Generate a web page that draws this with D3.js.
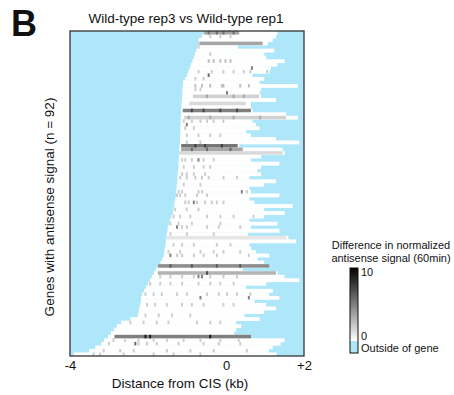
<!DOCTYPE html>
<html>
<head>
<meta charset="utf-8">
<script src="https://cdn.jsdelivr.net/npm/d3@7/dist/d3.min.js"></script>
<style>
  body { margin: 0; background: #fff; }
  text { font-family: "Liberation Sans", Arial, sans-serif; fill: #111; }
</style>
</head>
<body>
<div id="chart"></div>
<script>
// gene start / end per row (kb from CIS), rows sorted by start
var geneStart = [-0.56,-0.62,-0.70,-0.68,-0.74,-0.76,-0.80,-0.82,-0.86,-0.90,
  -0.93,-0.97,-1.00,-1.05,-1.10,-1.10,-1.12,-1.12,-1.13,-1.13,
  -1.14,-1.14,-1.15,-1.15,-1.16,-1.16,-1.17,-1.17,-1.17,-1.18,
  -1.18,-1.18,-1.19,-1.20,-1.20,-1.21,-1.21,-1.22,-1.22,-1.23,
  -1.24,-1.25,-1.25,-1.26,-1.27,-1.28,-1.28,-1.30,-1.32,-1.33,
  -1.35,-1.36,-1.40,-1.43,-1.46,-1.49,-1.50,-1.52,-1.53,-1.54,
  -1.55,-1.57,-1.58,-1.59,-1.63,-1.68,-1.74,-1.80,-1.85,-1.90,
  -1.95,-2.00,-2.05,-2.10,-2.15,-2.18,-2.18,-2.20,-2.22,-2.24,
  -2.26,-2.45,-2.69,-2.80,-2.87,-2.95,-3.02,-3.13,-3.20,-3.35,
  -3.51,-3.90];
var geneEnd = [1.32,1.28,1.20,1.07,0.30,1.24,0.98,1.03,1.50,1.32,
  1.15,1.11,0.68,0.98,0.86,1.84,0.90,0.86,0.90,1.28,
  0.64,0.64,0.68,1.54,1.84,0.68,0.77,0.86,0.51,0.64,
  1.28,1.88,0.34,1.45,1.50,0.90,0.64,1.37,0.90,0.81,
  0.90,0.60,1.28,0.98,0.60,0.64,1.37,0.60,0.73,1.71,
  0.98,1.50,0.98,0.60,1.32,0.64,1.37,0.56,1.60,1.80,
  0.60,0.64,0.77,1.11,0.81,0.98,1.11,0.43,1.32,1.50,
  1.88,1.03,0.51,1.20,1.11,1.37,0.73,1.03,1.28,0.98,
  0.47,0.86,0.26,0.39,0.26,0.21,0.64,1.50,1.40,1.20,
  1.10,1.30];

// long stretches of signal: [row, from kb, to kb, value]
var bands = [
  [0, -0.56, 0.34, 3.5], [3, -0.74, 0.94, 3.5], [18, -0.85, 0.85, 1.8],
  [20, -0.94, 0.51, 1.5], [22, -1.11, 0.64, 5], [24, -1.07, 1.54, 1.8],
  [32, -1.15, 0.30, 5.5], [33, -1.15, 0.43, 3.5], [34, -1.20, 1.45, 1.5],
  [58, -1.54, 1.54, 1], [66, -1.75, 1.11, 4.5], [68, -1.75, 1.28, 3],
  [86, -2.86, 0.64, 5]
];

// single bins: [row, kb positions, value]
var spots = [
  [0, [-0.47, -0.26, -0.09, 0.17], 5.5],
  [1, [-0.43, -0.17, 0.09], 2],
  [4, [-0.73], 2],
  [6, [-0.43], 2],
  [8, [-0.47, -0.34, -0.17, -0.04, 0.09], 2.5],
  [10, [0.64], 5],
  [11, [-0.73, -0.39, -0.09, 0.17, 0.43, 0.60, 1.03], 2],
  [12, [-0.47], 6],
  [13, [-0.81, -0.60], 2],
  [15, [-0.81, -0.64, -0.43, -0.13, -0.09, 0.34, 0.56], 2.5],
  [16, [-0.81, -0.68], 2],
  [17, [0.00], 5],
  [18, [-0.51, 0.17, 0.43], 3.5],
  [22, [-0.90, -0.60, -0.17, 0.26], 7.5],
  [24, [-0.98, -0.43, 0.17, 0.85], 3.5],
  [25, [-1.11, -0.90, -0.68, -0.51, -0.34, -0.09], 2],
  [26, [-1.03], 5],
  [27, [-1.07, -0.85], 2],
  [29, [-1.03, -0.73, -0.43, -0.17], 2],
  [31, [-1.03, -0.68], 2],
  [32, [-0.81, -0.56, -0.13], 7.5],
  [33, [-0.90, -0.51, 0.09], 6],
  [36, [-1.15, -1.07, -0.90, -0.60, -0.34], 2],
  [36, [-0.73], 5],
  [38, [-1.11, -0.85, -0.60, -0.43], 2],
  [40, [-1.15, -1.03, -0.85, -0.56], 2],
  [41, [-1.20, -1.03, -0.81, -0.64, -0.47, -0.09, 0.26], 2],
  [43, [-1.11, -0.68], 2],
  [45, [-1.24, -1.15, -0.73, -0.64, 0.51], 2],
  [45, [0.38], 5],
  [46, [-1.28, -1.20, -1.07, -0.77, -0.51], 2],
  [48, [-1.07, -0.98, -0.77, -0.56, -0.39, -0.26, -0.09], 2],
  [48, [-0.85], 5],
  [50, [-1.33, -1.03, -0.73], 2],
  [52, [-1.37, -1.20, -0.94, -0.51, -0.17, 0.17, 0.68, 1.03], 2],
  [54, [-1.45, -1.24, -0.90, -0.17], 2],
  [55, [-1.28], 5],
  [55, [-1.15, -1.03, -0.51, -0.21, 0.34], 2],
  [57, [-1.45, -1.03, -0.34], 2],
  [60, [-1.37, -1.15, -0.85, -0.26, 0.09], 2],
  [62, [-1.50, -1.20, -0.68, -0.34, -0.09, 0.34], 2],
  [63, [-1.45], 5],
  [63, [-1.28, -1.15, -0.85, -0.60, -0.26, 0.56], 2],
  [66, [-1.45, -0.90, -0.26, 0.34], 6.5],
  [68, [-0.51], 7],
  [69, [-1.92, -1.71, -1.45, -1.15, -0.85, -0.43, -0.09, 0.26], 2],
  [69, [-0.73, -0.64], 5],
  [71, [-1.97, -1.71, -1.45, -1.15, -0.73, -0.43, -0.17, 0.17], 2],
  [74, [-2.09, -1.88, -1.67, -1.28, -1.03, -0.51, -0.21, 0.00, 0.26, 0.60], 2],
  [75, [-0.68, 0.56], 5],
  [77, [-2.05, -1.84, -1.54, -1.15, -0.90, -0.60, -0.09, 0.17], 2],
  [80, [-2.09, -1.75, -1.41, -0.94], 2],
  [82, [-2.48, -2.14, -1.80, -1.50, -0.77, -0.43, -0.17], 2],
  [86, [-2.09, -1.97, -0.43], 9],
  [87, [-2.91, -2.61, -2.27, -1.88, -1.54, -1.11, -0.68, -0.17, 0.30], 2],
  [88, [-3.03, -2.27, -2.05, -1.80, -1.24, -0.60, -0.21, 0.34], 2],
  [88, [-2.35], 6],
  [90, [-3.16, -2.74, -2.39, -1.54, -0.94, -0.34, 0.51], 2],
  [91, [-3.42, -3.25, -2.65, -1.88, -1.37, -0.68], 2]
];

var xTicks = [-4, 0, 2];
var xTickLabels = ["-4", "0", "+2"];
var legendTicks = [0, 10];

var outside = "#aee7fa";
var nRows = geneStart.length;
var binKb = 0.05;

var svg = d3.select("#chart").append("svg")
    .attr("width", 454)
    .attr("height", 395);

var x = d3.scaleLinear().domain([-4, 2]).range([70, 304]);
var y = d3.scaleBand().domain(d3.range(nRows)).range([31, 356]);
var color = d3.scaleLinear().domain([0, 10]).range(["#ffffff", "#000000"]);

var plot = svg.append("g");

// everything outside the gene body is blue
plot.append("rect")
    .attr("x", x(-4)).attr("y", y.range()[0])
    .attr("width", x(2) - x(-4)).attr("height", y.range()[1] - y.range()[0])
    .attr("fill", outside);

plot.selectAll(".gene")
    .data(d3.range(nRows))
    .enter().append("rect")
    .attr("class", "gene")
    .attr("x", function(i){ return x(geneStart[i]); })
    .attr("y", function(i){ return y(i); })
    .attr("width", function(i){ return x(geneEnd[i]) - x(geneStart[i]); })
    .attr("height", y.bandwidth() + 0.3)
    .attr("fill", color(0));

// clip a stretch to the gene body of its row
function clipRow(r, a, b){
    return [Math.max(a, geneStart[r]), Math.min(b, geneEnd[r])];
}

plot.selectAll(".band")
    .data(bands)
    .enter().append("rect")
    .attr("class", "band")
    .attr("x", function(d){ return x(clipRow(d[0], d[1], d[2])[0]); })
    .attr("y", function(d){ return y(d[0]); })
    .attr("width", function(d){ var c = clipRow(d[0], d[1], d[2]); return Math.max(0, x(c[1]) - x(c[0])); })
    .attr("height", y.bandwidth())
    .attr("fill", function(d){ return color(d[3]); });

var spotCells = [];
spots.forEach(function(s){
    s[1].forEach(function(p){
        if(p >= geneStart[s[0]] && p + binKb <= geneEnd[s[0]]){
            spotCells.push({row: s[0], kb: p, v: s[2]});
        }
    });
});

plot.selectAll(".spot")
    .data(spotCells)
    .enter().append("rect")
    .attr("class", "spot")
    .attr("x", function(d){ return x(d.kb); })
    .attr("y", function(d){ return y(d.row); })
    .attr("width", x(binKb) - x(0))
    .attr("height", y.bandwidth())
    .attr("fill", function(d){ return color(d.v); });

// frame
svg.append("rect")
    .attr("x", x(-4)).attr("y", y.range()[0])
    .attr("width", x(2) - x(-4)).attr("height", y.range()[1] - y.range()[0])
    .attr("fill", "none")
    .attr("stroke", "#333")
    .attr("stroke-width", 1.3);

// x axis, labels only
var xAxis = svg.append("g")
    .attr("transform", "translate(0,358)")
    .call(d3.axisBottom(x).tickValues(xTicks).tickSize(0).tickPadding(3)
        .tickFormat(function(d, i){ return xTickLabels[i]; }));
xAxis.select(".domain").remove();
xAxis.selectAll("text")
    .style("font-family", "'Liberation Sans', Arial, sans-serif")
    .style("font-size", "13px")
    .attr("fill", "#111");

svg.append("text")
    .attr("x", 180).attr("y", 388)
    .attr("text-anchor", "middle")
    .style("font-size", "13.5px")
    .text("Distance from CIS (kb)");

svg.append("text")
    .attr("transform", "translate(54,207) rotate(-90)")
    .attr("text-anchor", "middle")
    .style("font-size", "13.5px")
    .text("Genes with antisense signal (n = 92)");

svg.append("text")
    .attr("x", 186).attr("y", 23)
    .attr("text-anchor", "middle")
    .style("font-size", "13.5px")
    .text("Wild-type rep3 vs Wild-type rep1");

svg.append("text")
    .attr("x", 11).attr("y", 36)
    .style("font-size", "36px")
    .style("font-weight", "bold")
    .style("font-family", "'Liberation Sans', Arial, sans-serif")
    .text("B");

// legend: grey ramp plus blue "outside" swatch
var lg = svg.append("g");
var ly = d3.scaleLinear().domain(legendTicks).range([341, 268]);
var defs = svg.append("defs");
var grad = defs.append("linearGradient")
    .attr("id", "ramp").attr("x1", 0).attr("y1", 1).attr("x2", 0).attr("y2", 0);
grad.append("stop").attr("offset", 0).attr("stop-color", color(0));
grad.append("stop").attr("offset", 1).attr("stop-color", color(10));

lg.append("rect")
    .attr("x", 350).attr("y", ly(10))
    .attr("width", 8).attr("height", ly(0) - ly(10))
    .attr("fill", "url(#ramp)");
lg.append("rect")
    .attr("x", 350).attr("y", ly(0))
    .attr("width", 8).attr("height", 12)
    .attr("fill", outside);
lg.append("rect")
    .attr("x", 350).attr("y", ly(10))
    .attr("width", 8).attr("height", ly(0) + 12 - ly(10))
    .attr("fill", "none").attr("stroke", "#111").attr("stroke-width", 1);

lg.selectAll(".lt")
    .data(legendTicks)
    .enter().append("text")
    .attr("x", 361)
    .attr("y", function(d){ return ly(d) + (d == 0 ? -1 : 8); })
    .style("font-size", "11px")
    .text(function(d){ return d; });

lg.append("text").attr("x", 361).attr("y", 352)
    .style("font-size", "11px").text("Outside of gene");
lg.append("text").attr("x", 391).attr("y", 249)
    .attr("text-anchor", "middle")
    .style("font-size", "11px").text("Difference in normalized");
lg.append("text").attr("x", 391).attr("y", 262)
    .attr("text-anchor", "middle")
    .style("font-size", "11px").text("antisense signal (60min)");
</script>
</body>
</html>
